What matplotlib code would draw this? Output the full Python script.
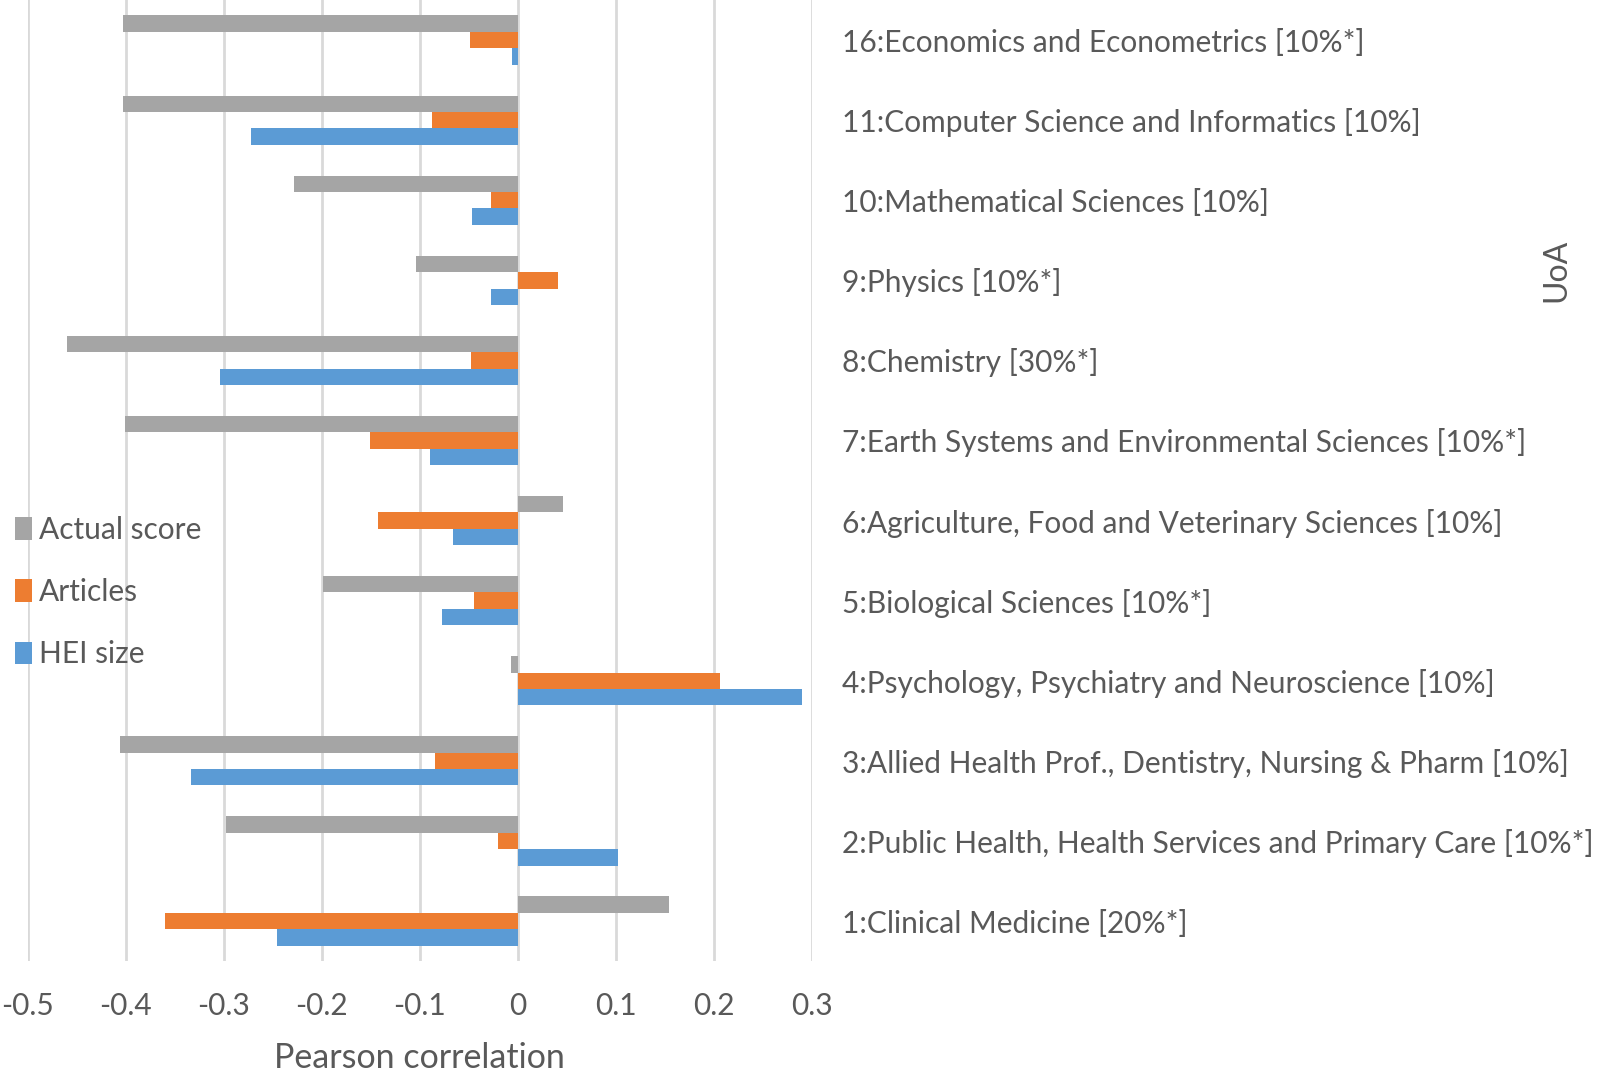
import numpy as np
import matplotlib.pyplot as plt

# Units of assessment, bottom to top
uoa = [
    "1:Clinical Medicine [20%*]",
    "2:Public Health, Health Services and Primary Care [10%*]",
    "3:Allied Health Prof., Dentistry, Nursing & Pharm [10%]",
    "4:Psychology, Psychiatry and Neuroscience [10%]",
    "5:Biological Sciences [10%*]",
    "6:Agriculture, Food and Veterinary Sciences [10%]",
    "7:Earth Systems and Environmental Sciences [10%*]",
    "8:Chemistry [30%*]",
    "9:Physics [10%*]",
    "10:Mathematical Sciences [10%]",
    "11:Computer Science and Informatics [10%]",
    "16:Economics and Econometrics [10%*]",
]

# Pearson correlations
actual_score = [0.154, -0.298, -0.406, -0.007, -0.199, 0.046, -0.401, -0.460, -0.104, -0.228, -0.403, -0.403]
articles = [-0.360, -0.020, -0.084, 0.206, -0.045, -0.143, -0.151, -0.048, 0.041, -0.027, -0.087, -0.049]
hei_size = [-0.246, 0.102, -0.333, 0.290, -0.077, -0.066, -0.090, -0.304, -0.027, -0.047, -0.272, -0.006]

plt.rcParams['font.family'] = ['Lato', 'DejaVu Sans']
txt = '#595959'

fig = plt.figure(figsize=(16.03, 10.72), dpi=100)
ax = fig.add_axes([0.0172, 0.1035, 0.4893, 0.8965])

y = np.arange(len(uoa))
h = 0.205
ax.barh(y + h, actual_score, height=h, color='#A5A5A5', label='Actual score')
ax.barh(y, articles, height=h, color='#ED7D31', label='Articles')
ax.barh(y - h, hei_size, height=h, color='#5B9BD5', label='HEI size')

ax.set_xlim(-0.5, 0.3)
ax.set_ylim(-0.5, len(uoa) - 0.5)
ax.set_xticks(np.arange(-0.5, 0.31, 0.1))
ax.set_xticklabels(['-0.5', '-0.4', '-0.3', '-0.2', '-0.1', '0', '0.1', '0.2', '0.3'])
ax.grid(axis='x', color='#D9D9D9', linewidth=2)
ax.set_axisbelow(True)
for s in ax.spines.values():
    s.set_visible(False)

ax.yaxis.tick_right()
ax.set_yticks(y)
ax.set_yticklabels(uoa)
ax.tick_params(axis='y', length=0, pad=22, labelsize=21.5, labelcolor=txt)
ax.tick_params(axis='x', length=0, pad=22, labelsize=21.5, labelcolor=txt)
ax.set_xlabel('Pearson correlation', fontsize=24.5, color=txt, labelpad=16)

fig.text(0.971, 0.748, 'UoA', rotation=90, fontsize=23, color=txt, ha='center', va='center')

leg = ax.legend(loc='center left', bbox_to_anchor=(-0.05, 0.384), frameon=False,
                fontsize=21.5, handlelength=0.55, handleheight=0.8, handletextpad=0.25,
                labelspacing=1.15, labelcolor=txt)

fig.savefig('out.png', dpi=100)
